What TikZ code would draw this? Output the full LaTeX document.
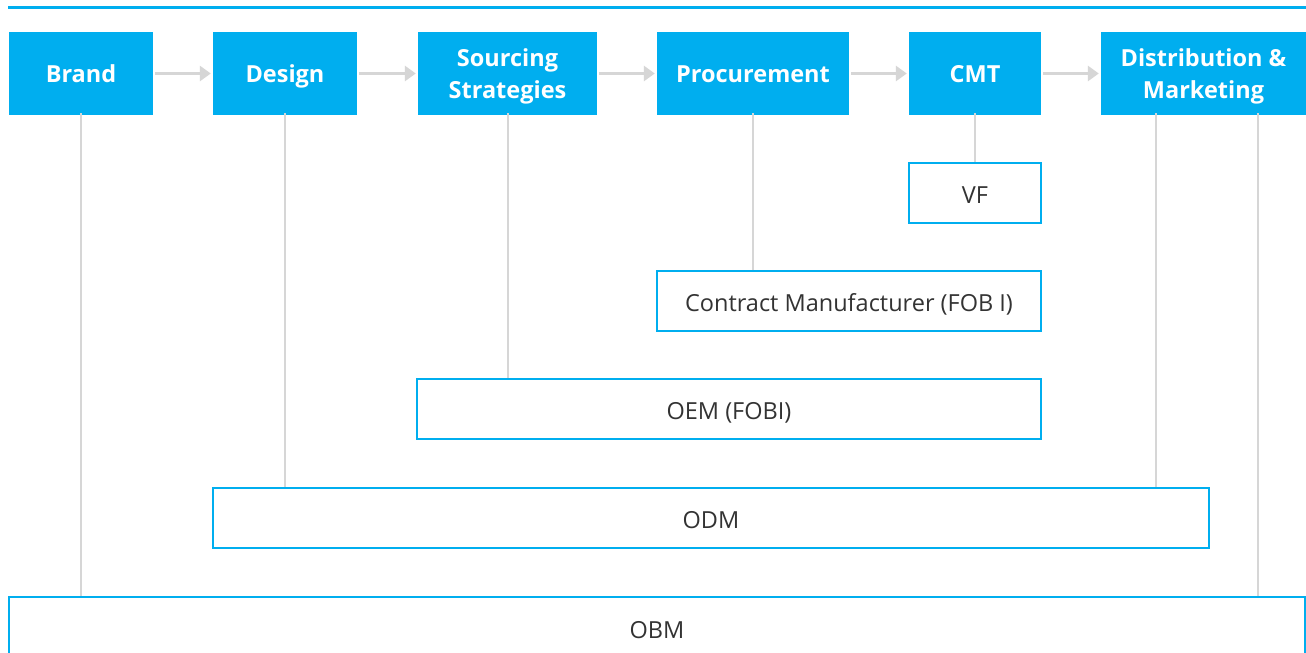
\documentclass[tikz,border=0pt]{standalone}
\usepackage{fontspec}
\setmainfont{Open Sans}
\usetikzlibrary{arrows.meta,calc}
\definecolor{cblue}{HTML}{00AEEF}
\definecolor{cgray}{HTML}{D6D6D6}
\definecolor{ctext}{HTML}{333333}
\newcommand\hstr{\rule[-7pt]{0pt}{31pt}}
\newcommand\bstr{\rule[-6pt]{0pt}{32pt}}
\tikzset{
  hdr/.style={fill=cblue, draw=none, minimum height=83pt, inner sep=0pt, text=white,
    font=\fontsize{23.5}{29}\selectfont\bfseries, align=center},
  outbox/.style={draw=cblue, line width=2.5pt, fill=white, minimum height=60pt, inner sep=0pt,
    text=ctext, font=\fontsize{23.5}{28}\selectfont},
  flow/.style={draw=cgray, line width=3pt, -{Triangle[length=11pt,width=15pt]}, shorten <=2pt, shorten >=2pt},
  link/.style={draw=cgray, line width=2pt}
}
\begin{document}
\begin{tikzpicture}[x=1pt,y=-1pt]
\clip (0,0) rectangle (1306,653);
\fill[white] (0,0) rectangle (1306,653);
\coordinate (tl) at (8,7.5);
\coordinate (tr) at (1306,7.5);
\draw[cblue, line width=2.5pt] (tl) -- (tr);
% headers
\node[hdr, minimum width=144pt] (brand) at (81,73.5) {\hstr Brand};
\node[hdr, minimum width=144pt] (design) at (285,73.5) {\hstr Design};
\node[hdr, minimum width=179pt] (sourcing) at (507.5,73.5) {\hstr Sourcing\\\hstr Strategies};
\node[hdr, minimum width=192pt] (proc) at (753,73.5) {\hstr Procurement};
\node[hdr, minimum width=132pt] (cmt) at (975,73.5) {\hstr CMT};
\node[hdr, minimum width=205pt] (dist) at (1203.5,73.5) {\hstr Distribution \&\\\hstr Marketing};
% flow arrows
\draw[flow] (brand.east) -- (design.west);
\draw[flow] (design.east) -- (sourcing.west);
\draw[flow] (sourcing.east) -- (proc.west);
\draw[flow] (proc.east) -- (cmt.west);
\draw[flow] (cmt.east) -- (dist.west);
% outline boxes
\node[outbox, minimum width=132pt] (vf) at (975,193) {\bstr VF};
\node[outbox, minimum width=384pt] (cm) at (849,301) {\bstr Contract Manufacturer (FOB I)};
\node[outbox, minimum width=624pt] (oem) at (729,409) {\bstr OEM (FOBI)};
\node[outbox, minimum width=996pt] (odm) at (711,518) {\bstr ODM};
\node[outbox, minimum width=1296pt, minimum height=62pt] (obm) at (657,628) {\bstr OBM};
% links
\draw[link] ([yshift=2pt]brand.south) -- (brand.south |- obm.north);
\draw[link] ([yshift=2pt]design.south) -- (design.south |- odm.north);
\draw[link] ([yshift=2pt]sourcing.south) -- (sourcing.south |- oem.north);
\draw[link] ([yshift=2pt]proc.south) -- (proc.south |- cm.north);
\draw[link] ([yshift=2pt]cmt.south) -- (cmt.south |- vf.north);
\draw[link] ([xshift=-47.5pt,yshift=2pt]dist.south) -- ([xshift=-47.5pt]dist.south |- odm.north);
\draw[link] ([xshift=54.5pt,yshift=2pt]dist.south) -- ([xshift=54.5pt]dist.south |- obm.north);
\end{tikzpicture}
\end{document}
